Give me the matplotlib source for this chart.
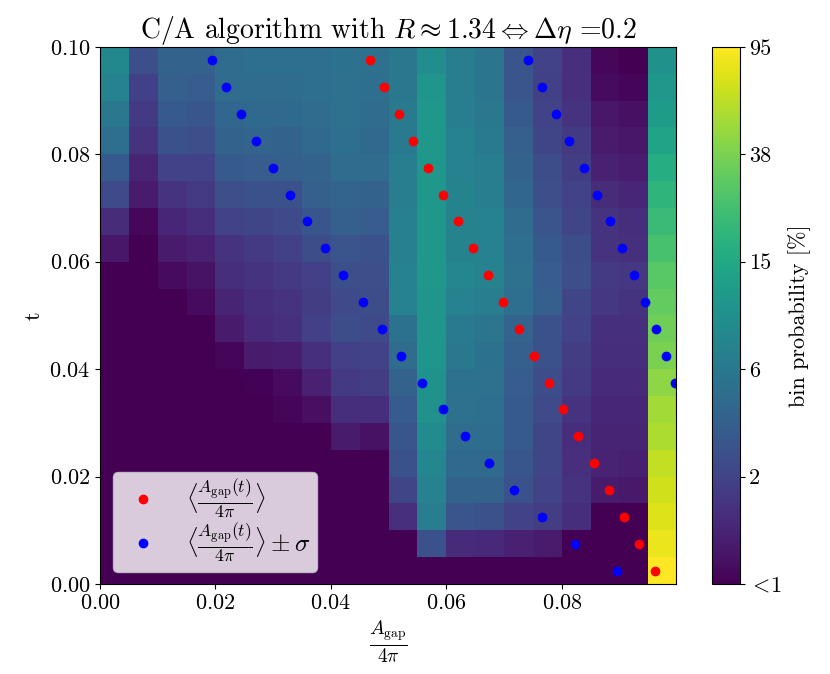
import numpy as np
import matplotlib
matplotlib.use("Agg")
import matplotlib.pyplot as plt
from matplotlib.colors import LogNorm

plt.rcParams['font.family'] = 'serif'
plt.rcParams['font.serif'] = ['cmr10', 'DejaVu Serif']
plt.rcParams['mathtext.fontset'] = 'cm'
plt.rcParams['axes.formatter.use_mathtext'] = True
plt.rcParams['font.size'] = 16

# time bins (row centres) and the gap-area curves
t_centers = [0.0975, 0.0925, 0.0875, 0.0825, 0.0775, 0.0725, 0.0675, 0.0625, 0.0575, 0.0525,
             0.0475, 0.0425, 0.0375, 0.0325, 0.0275, 0.0225, 0.0175, 0.0125, 0.0075, 0.0025]
mean_gap = [0.0467, 0.0492, 0.0518, 0.0542, 0.0569, 0.0595, 0.0621, 0.0647, 0.0673, 0.0699,
            0.0726, 0.0752, 0.0778, 0.0803, 0.0829, 0.0856, 0.0882, 0.0908, 0.0934, 0.0961]
lower_gap = [0.0194, 0.0219, 0.0245, 0.0271, 0.0300, 0.0330, 0.0359, 0.0390, 0.0421, 0.0455,
             0.0489, 0.0522, 0.0558, 0.0594, 0.0633, 0.0674, 0.0718, 0.0766, 0.0823, 0.0895]
upper_gap = [0.0742, 0.0765, 0.0790, 0.0813, 0.0838, 0.0861, 0.0883, 0.0905, 0.0925, 0.0945,
             0.0964, 0.0981, 0.0996, 0.1013, 0.1026, 0.1037, 0.1045, 0.1050, 0.1046, 0.1028]

# bin probability [%], rows from t = 0.095-0.1 (top) down to t = 0-0.005 (bottom)
prob = [
    [8.3, 2.9, 4.0, 4.0, 4.8, 5.0, 5.0, 5.0, 5.5, 5.3, 6.1, 9.2, 6.6, 5.8, 3.2, 2.4, 1.8, 1.06, 0.9, 9.6],
    [7.3, 2.3, 3.8, 3.7, 4.8, 4.8, 4.8, 5.0, 5.3, 5.0, 6.1, 10.5, 6.6, 5.8, 3.2, 2.3, 1.8, 1.1, 1.03, 11.0],
    [6.1, 2.1, 3.5, 3.3, 4.4, 4.6, 4.6, 4.8, 5.3, 4.8, 6.3, 11.0, 6.6, 6.1, 3.5, 2.4, 1.9, 1.28, 1.17, 12.0],
    [5.0, 1.9, 3.05, 2.9, 4.0, 4.2, 4.0, 4.6, 5.0, 4.6, 6.3, 11.0, 7.3, 6.3, 3.8, 2.5, 2.1, 1.34, 1.28, 13.8],
    [3.5, 1.54, 2.4, 2.4, 3.5, 3.7, 3.8, 4.0, 4.8, 4.8, 6.6, 11.0, 7.3, 6.6, 4.0, 2.8, 2.2, 1.47, 1.4, 16.5],
    [2.7, 1.34, 1.9, 2.1, 2.9, 3.0, 3.05, 3.8, 4.2, 4.0, 6.6, 11.0, 7.6, 6.6, 4.4, 2.9, 2.4, 1.7, 1.6, 19.0],
    [1.7, 1.06, 1.6, 1.76, 2.4, 2.5, 2.7, 3.3, 3.8, 3.7, 7.0, 11.0, 7.6, 7.3, 4.8, 3.2, 2.5, 1.9, 1.76, 21.8],
    [1.28, 0.8, 1.34, 1.47, 1.9, 2.1, 2.3, 2.8, 3.2, 3.05, 7.0, 11.0, 7.6, 7.3, 5.0, 3.5, 2.8, 1.9, 1.84, 25.0],
    [0.8, 0.8, 1.1, 1.22, 1.76, 1.9, 2.1, 2.3, 2.9, 2.9, 7.3, 11.0, 8.0, 7.3, 5.3, 3.7, 2.9, 2.1, 2.0, 28.7],
    [0.8, 0.8, 0.8, 1.1, 1.54, 1.76, 1.9, 2.2, 2.7, 2.8, 7.3, 10.5, 7.3, 6.6, 5.0, 3.8, 2.5, 2.0, 1.9, 31.5],
    [0.7, 0.7, 0.7, 0.8, 1.34, 1.68, 1.84, 2.3, 2.8, 2.7, 5.5, 10.5, 6.3, 5.8, 4.2, 3.05, 2.4, 1.84, 1.84, 34.5],
    [0.6, 0.6, 0.6, 0.7, 1.03, 1.34, 1.4, 1.84, 2.3, 2.4, 4.8, 10.5, 6.1, 5.5, 3.8, 3.0, 2.2, 1.76, 1.76, 38.0],
    [0.5, 0.5, 0.5, 0.6, 0.7, 1.0, 1.1, 1.47, 2.1, 2.2, 4.0, 10.0, 5.5, 5.3, 3.7, 2.8, 2.1, 1.68, 1.68, 43.5],
    [0.5, 0.5, 0.5, 0.5, 0.6, 0.7, 1.03, 1.15, 1.76, 1.76, 3.6, 9.6, 5.3, 5.0, 3.5, 2.7, 1.9, 1.6, 1.6, 50.0],
    [0.4, 0.4, 0.4, 0.5, 0.5, 0.6, 0.7, 0.9, 1.34, 1.2, 3.3, 8.7, 4.8, 4.9, 3.5, 2.5, 1.76, 1.54, 1.54, 54.5],
    [0.4, 0.4, 0.4, 0.4, 0.4, 0.4, 0.4, 0.4, 0.6, 0.8, 3.0, 8.0, 4.6, 4.6, 3.3, 2.5, 1.8, 1.5, 1.45, 62.5],
    [0.4, 0.4, 0.4, 0.4, 0.4, 0.4, 0.4, 0.4, 0.5, 0.6, 2.5, 7.3, 4.0, 4.1, 3.05, 2.4, 1.9, 1.35, 1.3, 68.5],
    [0.3, 0.3, 0.3, 0.3, 0.3, 0.3, 0.3, 0.3, 0.4, 0.5, 1.8, 6.6, 3.2, 3.05, 2.4, 2.2, 1.76, 0.8, 0.7, 75.0],
    [0.2, 0.2, 0.2, 0.2, 0.2, 0.2, 0.2, 0.2, 0.3, 0.4, 0.8, 3.05, 1.68, 1.65, 1.47, 1.34, 0.8, 0.5, 0.5, 82.5],
    [0.2, 0.2, 0.2, 0.2, 0.2, 0.2, 0.2, 0.2, 0.2, 0.2, 0.3, 0.4, 0.4, 0.4, 0.4, 0.4, 0.4, 0.4, 0.5, 95.0],
]
cbar_labels = [r'$<\!1$', '2', '6', '15', '38', '95']

nbins = 20
x_edges = np.linspace(0, 0.1, nbins + 1)
t_edges = np.linspace(0, 0.1, nbins + 1)
P = np.flipud(np.array(prob))

vmin, vmax = 0.97, 95
fig = plt.figure(figsize=(8.3, 6.74), dpi=100)
ax = fig.add_axes([0.1205, 0.1335, 0.694, 0.797])
cax = fig.add_axes([0.858, 0.1335, 0.033, 0.797])

mesh = ax.pcolormesh(x_edges, t_edges, P, cmap='viridis', norm=LogNorm(vmin=vmin, vmax=vmax))
ax.plot(mean_gap, t_centers, 'o', color='red', ms=6,
        label=r'$\langle\frac{A_{\rm gap}(t)}{4\pi}\rangle$')
ax.plot(lower_gap, t_centers, 'o', color='blue', ms=6,
        label=r'$\langle\frac{A_{\rm gap}(t)}{4\pi}\rangle\pm\sigma$')
ax.plot(upper_gap, t_centers, 'o', color='blue', ms=6)

ax.set_xlim(0, 0.0998)
ax.set_ylim(0, 0.1)
ax.set_xticks([0.0, 0.02, 0.04, 0.06, 0.08])
ax.set_yticks([0.0, 0.02, 0.04, 0.06, 0.08, 0.10])
ax.set_xlabel(r'$\frac{A_{\rm gap}}{4\pi}$', fontsize=20)
ax.set_ylabel('t')
ax.set_title(r'C/A algorithm with $R\approx1.34 \Leftrightarrow \Delta\eta$ =0.2', fontsize=20)
ax.legend(loc='lower left', fontsize=18, handlelength=1.9, handletextpad=0.8,
          labelspacing=0.05, borderpad=0.25)

cb = fig.colorbar(mesh, cax=cax)
cb.minorticks_off()
cb.set_ticks(np.geomspace(vmin, vmax, 6))
cb.set_ticklabels(cbar_labels)
cb.set_label('bin probability [%]')

fig.savefig('out.png', dpi=100)
